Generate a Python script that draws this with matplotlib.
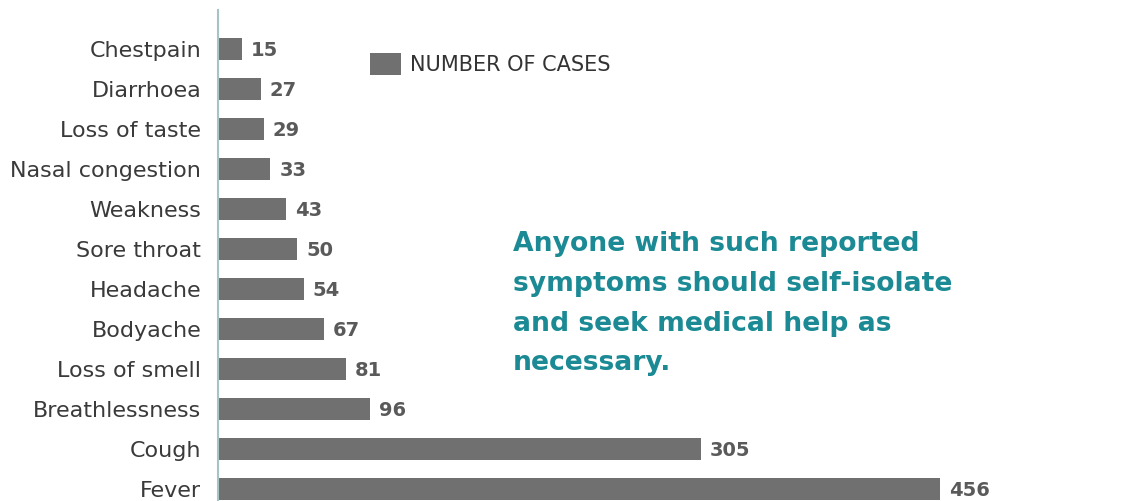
import matplotlib.pyplot as plt

# Data
symptoms = ["Fever", "Cough", "Breathlessness", "Loss of smell", "Bodyache",
            "Headache", "Sore throat", "Weakness", "Nasal congestion",
            "Loss of taste", "Diarrhoea", "Chestpain"]
cases = [456, 305, 96, 81, 67, 54, 50, 43, 33, 29, 27, 15]

BAR = "#707070"
TEAL = "#1b8a94"

plt.rcParams["font.family"] = ["DejaVu Sans"]

fig = plt.figure(figsize=(11.3, 5.01), dpi=100)
ax = fig.add_axes([218 / 1130, 0, 912 / 1130, 491 / 501])

pos = list(range(len(symptoms)))
bars = ax.barh(pos, cases, height=0.55, color=BAR, label="NUMBER OF CASES")

ax.set_xlim(0, 576)
ax.set_ylim(-0.3, 11.975)
ax.set_yticks(pos)
ax.set_yticklabels(symptoms, fontsize=16, color="#3a3a3a")
ax.tick_params(axis="y", length=0, pad=12)
ax.set_xticks([])

for s in ["top", "right", "bottom"]:
    ax.spines[s].set_visible(False)
ax.spines["left"].set_color("#a7c4c4")
ax.spines["left"].set_linewidth(1.5)

# value labels
for p, v in zip(pos, cases):
    ax.annotate(str(v), (v, p), xytext=(9, -2), textcoords="offset pixels",
                va="center", ha="left", fontsize=14, fontweight="bold",
                color="#5a5a5a")

ax.legend(loc="upper left", bbox_to_anchor=(351 / 1130, 1 - 34 / 501),
          bbox_transform=fig.transFigure, frameon=False, fontsize=15,
          handlelength=1.5, handleheight=1.3, handletextpad=0.43,
          labelcolor="#333333")

fig.text(513 / 1130, 1 - 231 / 501,
         "Anyone with such reported\nsymptoms should self-isolate\n"
         "and seek medical help as\nnecessary.",
         fontsize=19.2, fontweight="bold", color=TEAL, va="top", ha="left",
         linespacing=1.69)

fig.savefig("out.png", dpi=100)
